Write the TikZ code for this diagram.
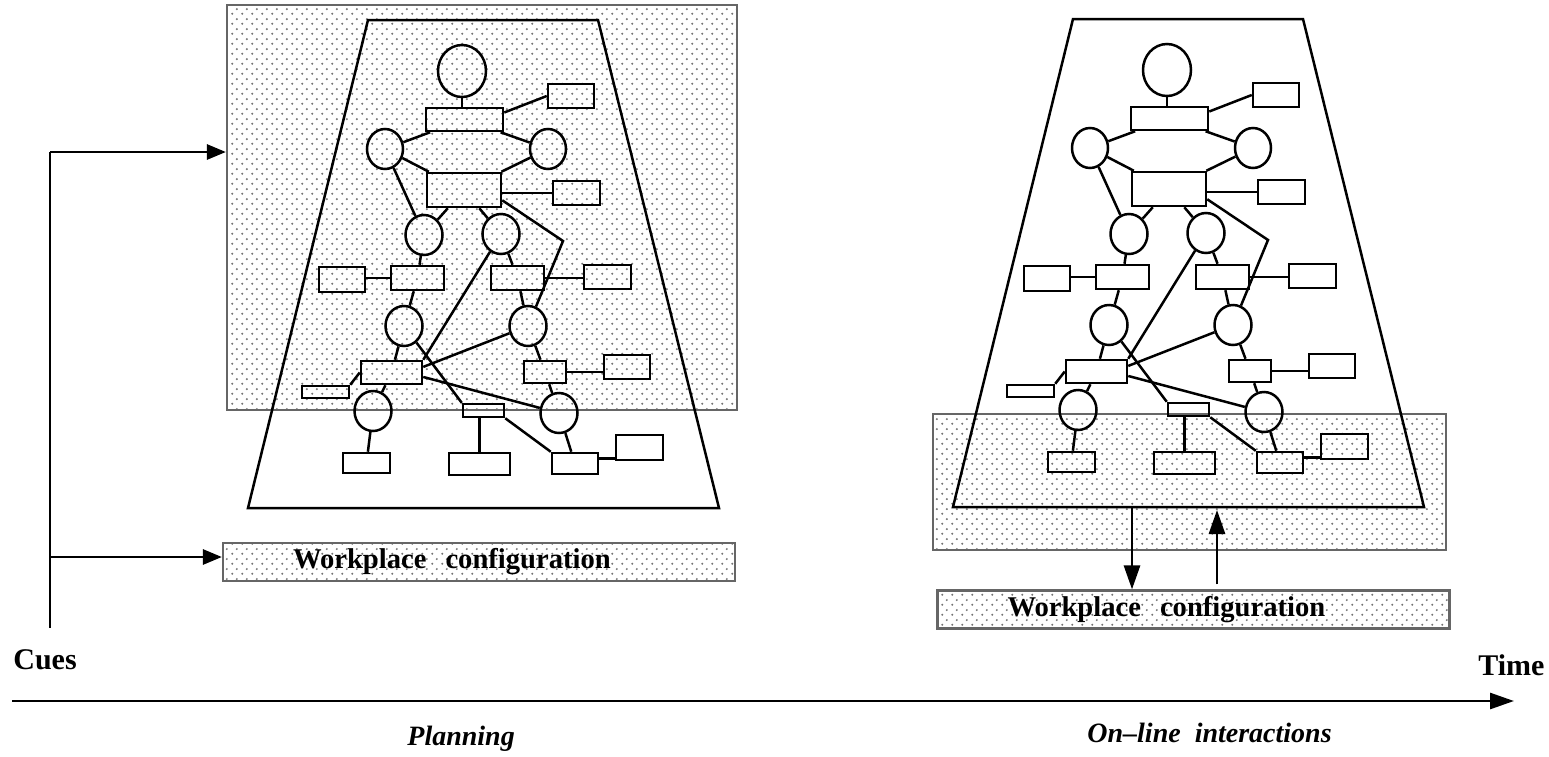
\documentclass[tikz,border=0pt]{standalone}
\usepackage{fontspec}
\setmainfont{Liberation Serif}
\usetikzlibrary{shapes.geometric,arrows.meta,patterns.meta}

% staggered grey dot screen used for the shaded areas
\tikzdeclarepattern{
  name=speckle,
  type=uncolored,
  bounding box={(0pt,0pt) and (5pt,5pt)},
  tile size={(5pt,5pt)},
  code={
    \pgfpathcircle{\pgfpoint{1.25pt}{1.25pt}}{0.6pt}
    \pgfpathcircle{\pgfpoint{3.75pt}{3.75pt}}{0.6pt}
    \pgfusepath{fill}
  }
}

\tikzset{
  link/.style={line width=1.25pt},
  oval/.style 2 args={ellipse, draw, line width=1.25pt, inner sep=0pt,
    minimum width=#1, minimum height=#2},
  rb/.style 2 args={rectangle, draw, line width=1.25pt, inner sep=0pt,
    minimum width=#1, minimum height=#2},
  shade/.style={draw=black!60, line width=1.1pt, pattern=speckle,
    pattern color=black!55},
  flow/.style={line width=1.4pt, -{Triangle[length=9.5pt,width=7.5pt]}},
  bigflow/.style={line width=1.4pt, -{Triangle[length=12pt,width=8pt]}},
  wpbox/.style={shade, minimum height=19pt, inner ysep=0pt, inner xsep=35pt,
    text width=186pt, align=left,
    font=\fontsize{14.3}{16}\selectfont\bfseries},
  lab/.style={inner sep=0pt, font=\fontsize{15}{17}\selectfont\bfseries},
  phase/.style={inner sep=0pt, font=\fontsize{14}{17}\selectfont\bfseries\itshape},
  % task network inside its trapezoid
  pics/net/.style={code={
    \draw[link] (368,20) -- (598,20) -- (719,508) -- (248,508) -- cycle;
    \node[oval={24pt}{26pt}] (top) at (462,71) {};
    \node[rb={38.5pt}{11.5pt}] (r1) at (464.5,119.5) {};
    \node[rb={23pt}{12pt}] (s1) at (571,96) {};
    \node[oval={18pt}{20pt}] (cl) at (385,149) {};
    \node[oval={18pt}{20pt}] (cr) at (548,149) {};
    \node[rb={37pt}{17pt}] (r2) at (464,190) {};
    \node[rb={23.5pt}{12pt}] (s2) at (576.5,193) {};
    \node[oval={18.5pt}{20pt}] (c3) at (424,235) {};
    \node[oval={18.5pt}{20pt}] (c4) at (501,234) {};
    \coordinate (k) at (563,241);
    \node[rb={23pt}{12.5pt}] (l3) at (342,279.5) {};
    \node[rb={26.5pt}{12pt}] (m3a) at (417.5,278) {};
    \node[rb={26.5pt}{12pt}] (m3b) at (517.5,278) {};
    \node[rb={23.5pt}{12pt}] (r3) at (607.5,277) {};
    \node[oval={18.5pt}{20pt}] (c5) at (404,326) {};
    \node[oval={18.5pt}{20pt}] (c6) at (528,326) {};
    \node[rb={30.5pt}{11.5pt}] (m4a) at (391.5,372.5) {};
    \node[rb={23.5pt}{6pt}] (t1) at (325.5,392) {};
    \node[rb={21pt}{11pt}] (m4b) at (545,372) {};
    \node[rb={23pt}{12pt}] (r4) at (627,367) {};
    \node[oval={18.5pt}{20pt}] (c7) at (373,411) {};
    \node[rb={20.5pt}{6.5pt}] (t2) at (483.5,410.5) {};
    \node[oval={18.5pt}{20pt}] (c8) at (559,413) {};
    \node[rb={23.5pt}{10pt}] (b1) at (366.5,463) {};
    \node[rb={30.5pt}{11pt}] (b2) at (479.5,464) {};
    \node[rb={23pt}{10.5pt}] (b3) at (575,463.5) {};
    \node[rb={23.5pt}{12.5pt}] (b4) at (639.5,447.5) {};
    \draw[link] (top) -- (top |- r1.north);
    \draw[link] (r1.10) -- (s1.west);
    \draw[link] (cl) -- (r1);
    \draw[link] (cr) -- (r1);
    \draw[link] (cl) -- (r2);
    \draw[link] (cr) -- (r2);
    \draw[link] (r2.east |- s2.west) -- (s2.west);
    \draw[link] (cl) -- (c3);
    \draw[link] (r2) -- (c3);
    \draw[link] (r2) -- (c4);
    \draw[link] (r2.-15) -- (k) -- (c6);
    \draw[link] (m3a.west -| l3.east) -- (m3a.west);
    \draw[link] (c3) -- (m3a);
    \draw[link] (c4) -- (m3b);
    \draw[link] (m3b.east) -- (m3b.east -| r3.west);
    \draw[link] (m3a) -- (c5);
    \draw[link] (m3b) -- (c6);
    \draw[link] (c4) -- (m4a.north east);
    \draw[link] (c5) -- (m4a);
    \draw[link] (c5) -- (t2.north west);
    \draw[link] (c6) -- (m4a.10);
    \draw[link] (m4a.-8) -- (c8);
    \draw[link] (t1.north east) -- (m4a.west);
    \draw[link] (m4a) -- (c7);
    \draw[link] (c6) -- (m4b);
    \draw[link] (m4b.east) -- (m4b.east -| r4.west);
    \draw[link] (m4b) -- (c8);
    \draw[link] (c7) -- (b1);
    \draw[link] (t2.south -| b2.north) -- (b2.north);
    \draw[link] (t2.south east) -- (b3.north west);
    \draw[link] (c8) -- (b3);
    \draw[link] (b3.12) -- (b3.12 -| b4.west);
  }}
}

\begin{document}
\begin{tikzpicture}[x=0.5pt, y=-0.5pt]
  \useasboundingbox (0,0) rectangle (1549,756);

  % planning stage
  \node[shade, minimum width=255pt, minimum height=202.5pt] (plan) at (482,207.5) {};
  \pic (L) at (0,0) {net};
  \node[wpbox] (wpL) at (479,562) {Workplace\ \ configuration};

  \coordinate (cueTop) at (50,152);
  \coordinate (cueMid) at (50,557);
  \coordinate (cueBot) at (50,628);
  \draw[link] (cueTop) -- (cueBot);
  \draw[flow] (cueTop) -- (cueTop -| plan.west);
  \draw[flow] (cueMid) -- (cueMid -| wpL.west);

  % on-line stage
  \node[shade, minimum width=256.5pt, minimum height=68pt] (exec) at (1189.5,482) {};
  \pic (R) at (705,-1) {net};
  \node[wpbox] (wpR) at (1193.5,609.5) {Workplace\ \ configuration};

  \coordinate (down) at (1132,507);
  \coordinate (up) at (1217,510);
  \draw[bigflow] (down) -- (down |- wpR.north);
  \draw[bigflow] ([yshift=2.5pt]up |- wpR.north) -- (up);

  % time axis
  \coordinate (tStart) at (12,701);
  \coordinate (tEnd) at (1514,701);
  \draw[bigflow] (tStart) -- (tEnd);

  \node[lab, anchor=base west] (cues) at (13,669) {Cues};
  \node[lab, anchor=base west] (time) at (1478,675) {Time};
  \node[phase, anchor=base west] (plng) at (407,745) {Planning};
  \node[phase, anchor=base west] (onl) at (1087,742) {On–line\ \ interactions};
\end{tikzpicture}
\end{document}
